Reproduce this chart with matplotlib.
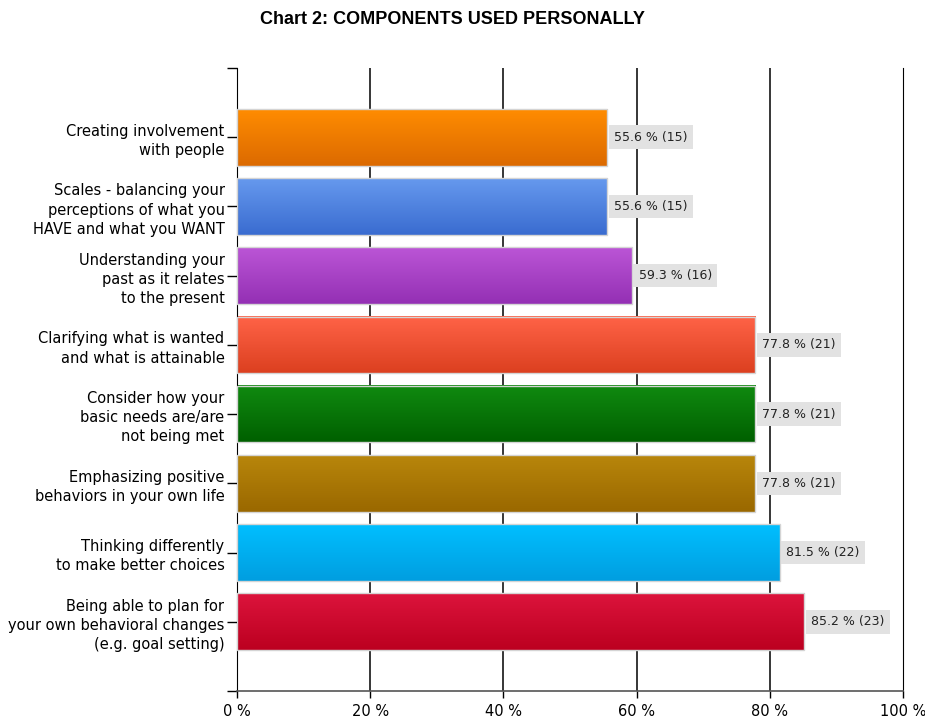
import numpy as np
import matplotlib.pyplot as plt
from matplotlib.colors import LinearSegmentedColormap
from matplotlib.patches import Rectangle

labels = [
    "Creating involvement\nwith people",
    "Scales - balancing your\nperceptions of what you\nHAVE and what you WANT",
    "Understanding your\npast as it relates\nto the present",
    "Clarifying what is wanted\nand what is attainable",
    "Consider how your\nbasic needs are/are\nnot being met",
    "Emphasizing positive\nbehaviors in your own life",
    "Thinking differently\nto make better choices",
    "Being able to plan for\nyour own behavioral changes\n(e.g. goal setting)",
]
percent = [55.6, 55.6, 59.3, 77.8, 77.8, 77.8, 81.5, 85.2]
counts = [15, 15, 16, 21, 21, 21, 22, 23]
# top / bottom colour of each bar's gradient
top_colors = ["#ff8c00", "#6699ee", "#bb55d6", "#ff6347", "#108a10", "#b8860b", "#00bfff", "#dc143c"]
bottom_colors = ["#dc6a00", "#3a6cd0", "#9430b4", "#dc4020", "#006000", "#9a6800", "#009ee0", "#bc0020"]
xticks = [0, 20, 40, 60, 80, 100]

plt.rcParams['font.family'] = ['DejaVu Sans']
fig = plt.figure(figsize=(9.25, 7.19), dpi=100)
ax = fig.add_axes([237 / 925, 28 / 719, 666 / 925, 623 / 719])

bar_h = 0.82
ypos = np.arange(1, len(labels) + 1)
grad = np.linspace(0, 1, 64).reshape(-1, 1)

for y, v, n, c1, c2 in zip(ypos, percent, counts, top_colors, bottom_colors):
    cmap = LinearSegmentedColormap.from_list("g", [c1, c2])
    ax.imshow(grad, cmap=cmap, aspect="auto", interpolation="bilinear",
              extent=[0, v, y + bar_h / 2, y - bar_h / 2], zorder=2)
    ax.add_patch(Rectangle((0, y - bar_h / 2), v, bar_h, fill=False,
                           edgecolor="#d4d4d4", lw=1, zorder=3))
    ax.text(v + 1.0, y, f"{v} % ({n})", va="center", ha="left", fontsize=9,
            color="#222222", zorder=4,
            bbox=dict(boxstyle="square,pad=0.42", fc="#e2e2e2", ec="none"))

ax.set_xlim(0, 100)
ax.set_ylim(9, 0)

for x in xticks[1:-1]:
    ax.axvline(x, color="black", lw=1.1, zorder=1)

ax.set_xticks(xticks)
ax.set_xticklabels([f"{t} %" for t in xticks], fontsize=10.5)
ax.set_yticks(range(10))
ax.set_yticklabels([""] + labels + [""], fontsize=10.5, linespacing=1.35)
ax.tick_params(axis="y", length=7, width=1, color="black", pad=2)
ax.tick_params(axis="x", length=5, width=1, color="black", pad=4)

ax.spines["top"].set_visible(False)
ax.spines["left"].set_color("black")
ax.spines["right"].set_color("black")
ax.spines["bottom"].set_color("#555555")
ax.spines["bottom"].set_linewidth(1.2)

fig.text(452 / 925, 1 - 20 / 719, "Chart 2: COMPONENTS USED PERSONALLY",
         ha="center", va="center", fontsize=13, fontweight="bold",
         family="Liberation Sans")

fig.savefig("out.png", dpi=100, facecolor="white")
